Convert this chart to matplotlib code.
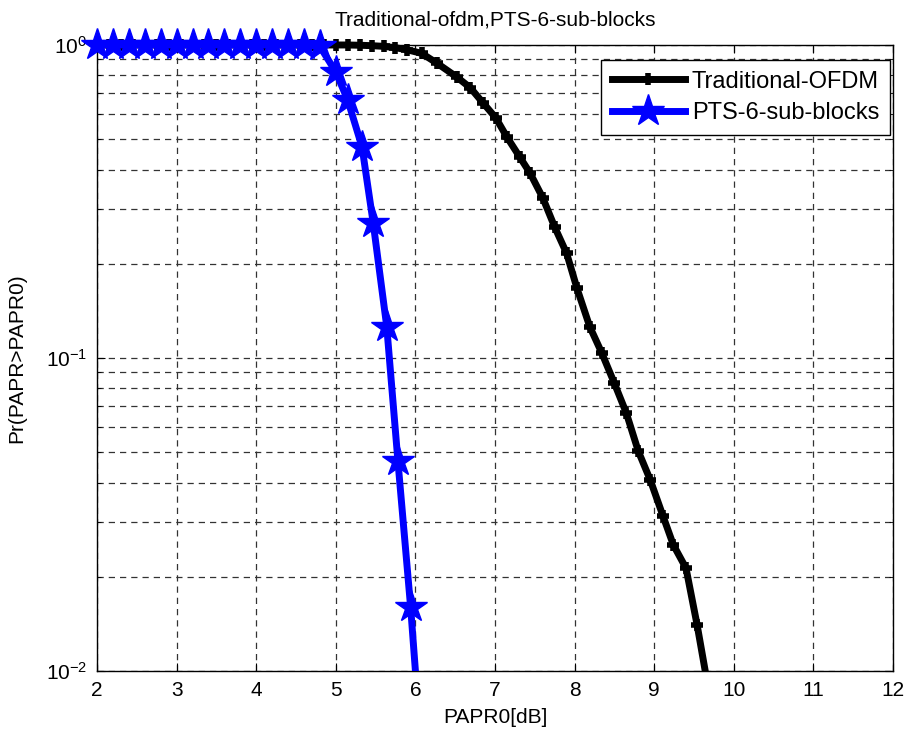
import matplotlib
matplotlib.use("Agg")
import matplotlib.pyplot as plt
import numpy as np
from matplotlib.ticker import LogLocator, NullFormatter, FixedLocator

plt.rcParams['font.family'] = ['Liberation Sans', 'DejaVu Sans']
plt.rcParams['mathtext.fontset'] = 'custom'
plt.rcParams['mathtext.rm'] = 'Liberation Sans'
plt.rcParams['mathtext.default'] = 'regular'

# -------------------------------------------------------------
# values

# Traditional OFDM (CCDF of PAPR)
papr_ofdm = [2.0, 2.15, 2.3, 2.45, 2.6, 2.75, 2.9, 3.05, 3.2, 3.35, 3.5, 3.65, 3.8,
             3.95, 4.1, 4.25, 4.4, 4.55, 4.7, 4.85, 5.0, 5.15, 5.3, 5.45, 5.6,
             5.75, 5.9, 6.08, 6.27, 6.52, 6.69, 6.85, 7.01, 7.15, 7.31, 7.44,
             7.6, 7.75, 7.9, 8.03, 8.19, 8.34, 8.5, 8.65, 8.8, 8.95, 9.11, 9.24,
             9.4, 9.54, 9.69]
ccdf_ofdm = [1.0, 1.0, 1.0, 1.0, 1.0, 1.0, 1.0, 1.0, 1.0, 1.0, 1.0, 1.0, 1.0,
             1.0, 1.0, 1.0, 1.0, 1.0, 1.0, 1.0, 1.0, 1.0, 0.998, 0.995, 0.99,
             0.98, 0.965, 0.94, 0.875, 0.79, 0.73, 0.653, 0.585, 0.508, 0.439, 0.39,
             0.325, 0.262, 0.216, 0.167, 0.126, 0.104, 0.083, 0.0667, 0.0504, 0.0408, 0.0313, 0.0253,
             0.0213, 0.014, 0.0085]

# PTS with 6 sub-blocks
papr_pts = [2.0, 2.2, 2.4, 2.6, 2.8, 3.0, 3.2, 3.4, 3.6, 3.8, 4.0, 4.2, 4.4,
            4.6, 4.8, 5.0, 5.15, 5.33, 5.47, 5.64, 5.78, 5.94, 6.1]
ccdf_pts = [1.0, 1.0, 1.0, 1.0, 1.0, 1.0, 1.0, 1.0, 1.0, 1.0, 1.0, 1.0, 1.0,
            1.0, 0.99, 0.82, 0.667, 0.472, 0.27, 0.126, 0.047, 0.016, 0.0046]

xticks = [2, 3, 4, 5, 6, 7, 8, 9, 10, 11, 12]
YMIN, YMAX = 1e-2, 1.0

# -------------------------------------------------------------


def draw_curve(ax, x, y, **kw):
    # markers are not clipped at the axes edge (like matlab), the last
    # segment running out below the axes is
    x = np.asarray(x)
    y = np.asarray(y)
    inside = y >= YMIN
    ax.plot(x[inside], y[inside], clip_on=False, **kw)
    n = inside.sum()
    kw2 = dict(kw)
    kw2.pop('label', None)
    kw2['marker'] = 'none'
    ax.plot(x[n - 1:], y[n - 1:], clip_on=True, **kw2)


fig = plt.figure(figsize=(9.1, 7.35), dpi=100)
ax = fig.add_axes([0.1066, 0.0871, 0.8747, 0.8517])
ax.set_yscale('log')

draw_curve(ax, papr_ofdm, ccdf_ofdm, color='black', lw=5, marker='+', ms=9, mew=4,
           label='Traditional-OFDM', zorder=3)
draw_curve(ax, papr_pts, ccdf_pts, color='#0000ff', lw=5, marker='*', ms=24, mew=1,
           label='PTS-6-sub-blocks', zorder=4)

ax.set_xlim(2, 12)
ax.set_ylim(YMIN, YMAX)
ax.xaxis.set_major_locator(FixedLocator(xticks))
ax.yaxis.set_major_locator(LogLocator(base=10, numticks=5))
ax.yaxis.set_minor_locator(LogLocator(base=10, subs=np.arange(2, 10), numticks=20))
ax.yaxis.set_minor_formatter(NullFormatter())

ax.grid(True, which='major', color='#333333', ls=(0, (5, 4)), lw=0.9)
ax.grid(True, which='minor', axis='y', color='#333333', ls=(0, (5, 4)), lw=0.9)

ax.tick_params(which='both', direction='in', top=True, right=True, labelsize=15, pad=7)
ax.tick_params(which='major', length=6)
ax.tick_params(which='minor', length=3)
for s in ax.spines.values():
    s.set_linewidth(1.0)

ax.set_title('Traditional-ofdm,PTS-6-sub-blocks', fontsize=15, pad=14)
ax.set_xlabel('PAPR0[dB]', fontsize=15, labelpad=6)
ax.set_ylabel('Pr(PAPR>PAPR0)', fontsize=15, labelpad=14)

leg = ax.legend(loc='upper right', fontsize=17, handlelength=3.1, framealpha=1,
                fancybox=False, edgecolor='black', borderpad=0.45,
                labelspacing=0.4, handletextpad=0.3, borderaxespad=0,
                bbox_to_anchor=(0.996, 0.976))
leg.get_frame().set_linewidth(1.0)

plt.savefig('out.png', dpi=100)
